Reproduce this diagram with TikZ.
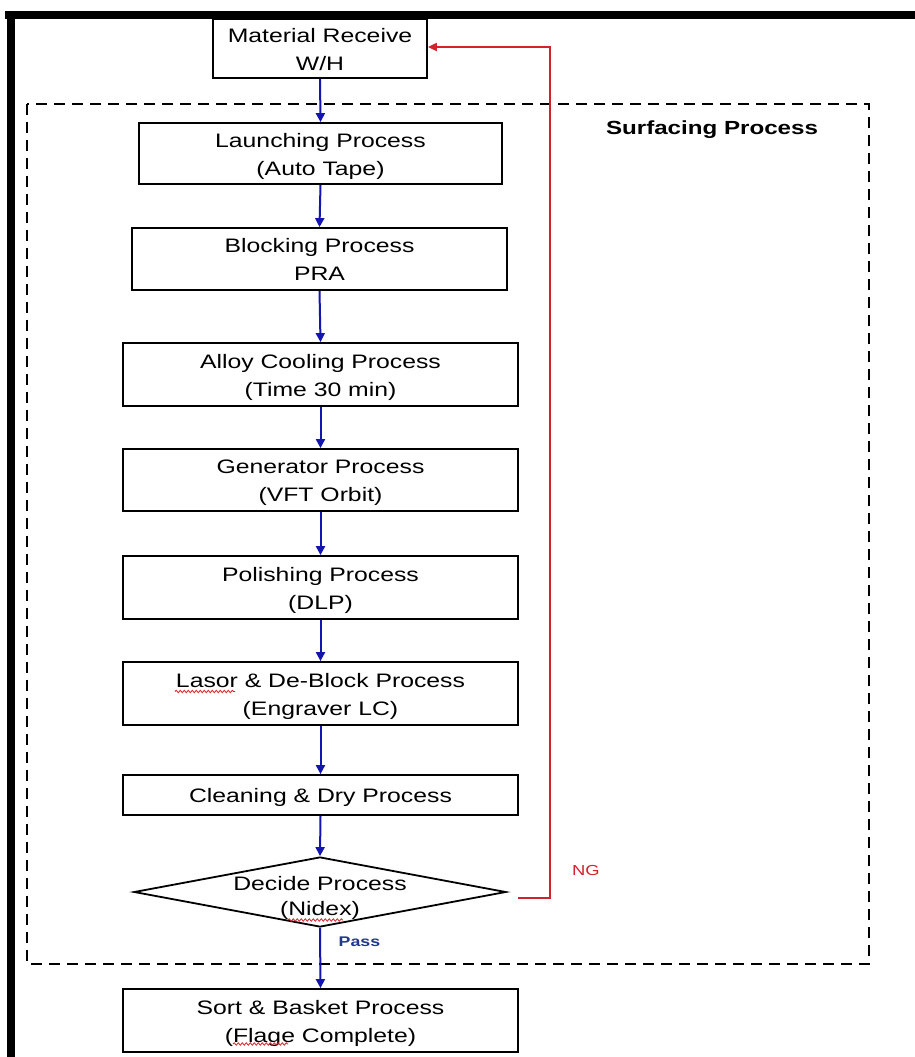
\documentclass[tikz,border=0pt]{standalone}
\usepackage{fontspec}
\setmainfont{Liberation Sans}[FakeStretch=1.27]
\usetikzlibrary{arrows.meta,shapes.geometric,decorations.pathmorphing}
\definecolor{flowblue}{RGB}{20,20,175}
\definecolor{ngred}{RGB}{210,35,45}
\definecolor{passblue}{RGB}{35,55,140}
\newcommand{\boxlines}[1]{\raisebox{-2pt}[\height][\depth]{\begin{tabular}{@{}c@{}}#1\end{tabular}}}
\tikzset{
  procbox/.style={draw=black, line width=1.8pt, fill=white, inner sep=0pt,
    font=\fontsize{19.5}{28}\selectfont},
  flow/.style={draw=flowblue, line width=2pt, -{Triangle[length=9pt,width=9pt]}},
  ngline/.style={draw=ngred, line width=2pt, -{Triangle[length=9pt,width=8pt]}},
  squig/.style={draw=ngred, line width=0.8pt, decorate, decoration={snake, amplitude=1.2pt, segment length=4pt}}
}
\begin{document}
\begin{tikzpicture}[x=1pt, y=-1pt]
\useasboundingbox (0,0) rectangle (915,1057);
\fill[white] (0,0) rectangle (915,1057);
% black frame
\fill[black] (5,11) rectangle (915,19);
\fill[black] (7,11) rectangle (15,1057);
% dashed group box
\draw[black, line width=2.5pt, dash pattern=on 11pt off 7pt] (27,104) rectangle (869,964);
\node[font=\bfseries\fontsize{19}{22}\selectfont] (surf) at (712,130) {Surfacing Process};
% process boxes
\node[procbox, minimum width=214pt, minimum height=59pt] (mat) at (320,48.5) {\boxlines{Material Receive\\W/H}};
\node[procbox, minimum width=363pt, minimum height=61pt] (launch) at (320.5,153.5) {\boxlines{Launching Process\\(Auto Tape)}};
\node[procbox, minimum width=375pt, minimum height=62pt] (block) at (319.5,259) {\boxlines{Blocking Process\\PRA}};
\node[procbox, minimum width=395pt, minimum height=63pt] (alloy) at (320.5,374.5) {\boxlines{Alloy Cooling Process\\(Time 30 min)}};
\node[procbox, minimum width=395pt, minimum height=62pt] (gen) at (320.5,480) {\boxlines{Generator Process\\(VFT Orbit)}};
\node[procbox, minimum width=395pt, minimum height=63pt] (pol) at (320.5,587.5) {\boxlines{Polishing Process\\(DLP)}};
\node[procbox, minimum width=395pt, minimum height=63pt] (lasor) at (320.5,693.5) {\boxlines{Lasor \& De-Block Process\\(Engraver LC)}};
\node[procbox, minimum width=395pt, minimum height=40pt] (clean) at (320.5,795) {\boxlines{Cleaning \& Dry Process}};
\node[draw=black, line width=1.8pt, fill=white, diamond, inner sep=0pt, minimum width=372pt, minimum height=70pt] (dec) at (320,892) {};
\node[align=center, inner sep=0pt, font=\fontsize{19.5}{25}\selectfont] (dectext) at ([yshift=-5.5pt]dec.center) {Decide Process\\(Nidex)};
\node[procbox, minimum width=395pt, minimum height=63pt] (sort) at (320.5,1020.5) {\boxlines{Sort \& Basket Process\\(Flage Complete)}};
% spell-check squiggles
\draw[squig] (175,691.5) -- (235,691.5);
\draw[squig] (288,920) -- (343,920);
\draw[squig] (233,1044) -- (288,1044);
% flow arrows
\draw[flow] (mat.south) -- (launch.north);
\draw[flow] (launch.south) -- (block.north);
\draw[flow] (block.south) -- (alloy.north);
\draw[flow] (alloy.south) -- (gen.north);
\draw[flow] (gen.south) -- (pol.north);
\draw[flow] (pol.south) -- (lasor.north);
\draw[flow] (lasor.south) -- (clean.north);
\draw[flow] (clean.south) -- (dec.north);
\draw[flow] (dec.south) -- (sort.north);
% NG loop
\coordinate (ngs) at (518,898);
\draw[ngline] (ngs) -| ([xshift=122pt,yshift=1.5pt]mat.east) -- ([yshift=1.5pt]mat.east);
\node[text=ngred, font=\fontsize{14.5}{16}\selectfont] (ng) at (586,870) {NG};
\node[text=passblue, font=\bfseries\fontsize{14}{16}\selectfont] (pass) at (359.5,942) {Pass};
\end{tikzpicture}
\end{document}
